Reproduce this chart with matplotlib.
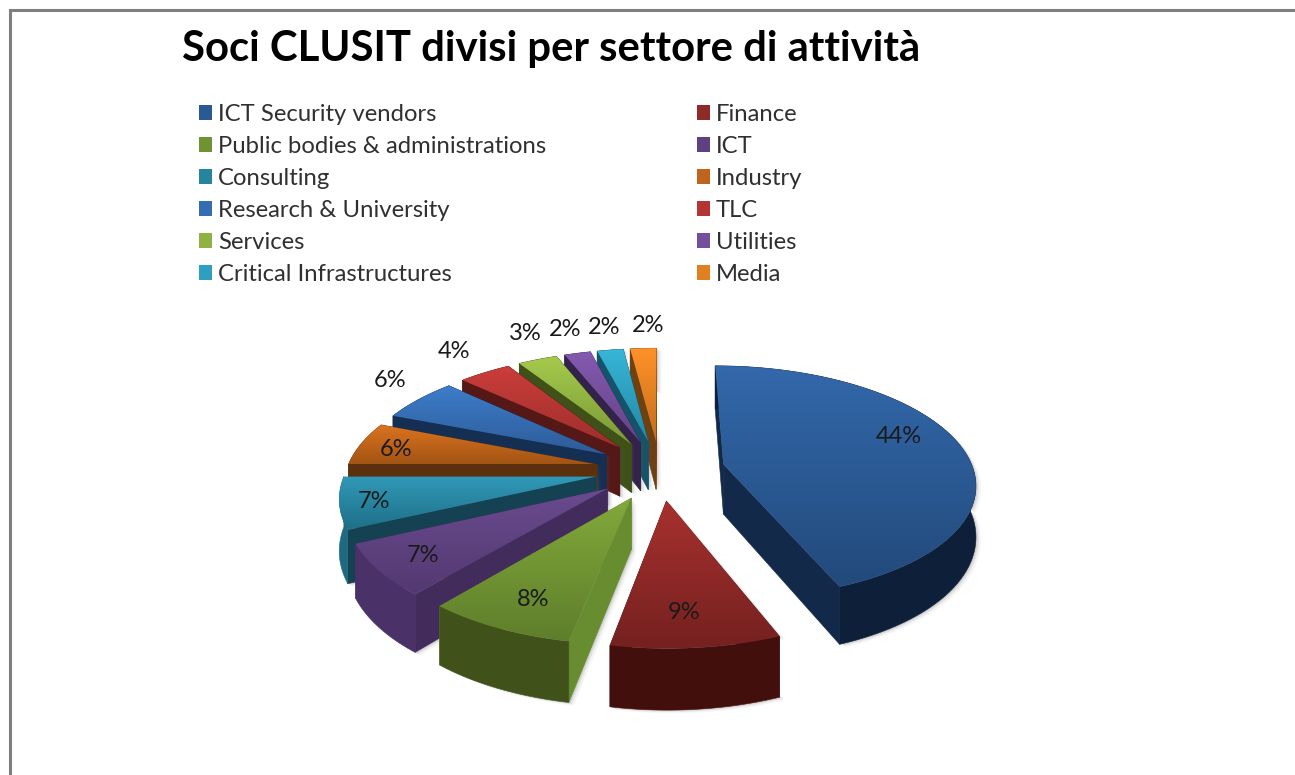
import numpy as np
import matplotlib
matplotlib.use("Agg")
import matplotlib.pyplot as plt
from matplotlib.colors import LinearSegmentedColormap
from matplotlib.patches import Polygon, Patch

TITLE = "Soci CLUSIT divisi per settore di attività"
categories = ["ICT Security vendors", "Finance", "Public bodies & administrations", "ICT",
              "Consulting", "Industry", "Research & University", "TLC",
              "Services", "Utilities", "Critical Infrastructures", "Media"]
values = [44, 9, 8, 7, 7, 6, 6, 4, 3, 2, 2, 2]

top_a = ["#3368ab", "#a8312e", "#82a93b", "#6a4b8f", "#3099b8", "#dc7420",
         "#3d7dca", "#cb3d3b", "#a5cb4c", "#8459af", "#36b6d8", "#ff9229"]
top_b = ["#224a7b", "#742120", "#5f7e2b", "#533971", "#1f6f87", "#a25414",
         "#2d5c98", "#9c2f2c", "#7a9a36", "#634487", "#2587a3", "#c56e1b"]
radial_c = ["#13294a", "#4f1513", "#688c30", "#412c5c", "#144253", "#5c300c",
            "#152f52", "#551816", "#3f5118", "#33224a", "#14536a", "#6f4010"]
outer_c = ["#0e2039", "#430f0d", "#40521a", "#4a3168", "#1f6a80", "#5c300c",
           "#152f52", "#551816", "#3f5118", "#33224a", "#14536a", "#6f4010"]
legend_c = ["#2a5a94", "#8e2a27", "#6f9232", "#5e4280", "#26849f", "#bf641a",
            "#356db2", "#b43634", "#8fb243", "#74509c", "#2e9fbe", "#e2801f"]
label_r = [0.74, 0.79, 0.79, 0.82, 0.87, 0.84, 1.19, 1.24, 1.29, 1.24, 1.24, 1.24]
label_dx = [0, -5, 3, 0, 0, -2, 4, -2, 11, 1, 2, 7]
label_dy = [-13, 0, 2, 1, 2, 2, -9, -5, -5, -5, -4, -4]

# view of the pie: a flat disc seen in perspective
CX, CY, RX, RY, PERSP, EXPLODE, DEPTH = 660, 470, 250, 115, 0.15, 0.26, 50


def project(x, y, lift=0.0):
    s = 1 / (1 - PERSP * y)
    return CX + RX * x * s, CY + RY * y * s + lift * s


def ground(theta, r, mid):
    return (r * np.sin(theta) + EXPLODE * np.sin(mid),
            -r * np.cos(theta) - EXPLODE * np.cos(mid))


fig = plt.figure(figsize=(12.95, 7.75), dpi=100, facecolor="white")
ax = fig.add_axes([0, 0, 1, 1])
ax.set_xlim(0, 1295)
ax.set_ylim(775, 0)
ax.axis("off")

fracs = np.array(values, dtype=float) / sum(values)
edges = np.concatenate([[0], np.cumsum(fracs)]) * 2 * np.pi
mids = (edges[:-1] + edges[1:]) / 2
order = sorted(range(len(values)), key=lambda i: -np.cos(mids[i]))

z = 2
for i in order:
    t0, t1, mid = edges[i], edges[i + 1], mids[i]
    thetas = np.linspace(t0, t1, 80)
    gx, gy = ground(thetas, 1.0, mid)
    ax_, ay_ = ground(0.0, 0.0, mid)
    tx, ty = project(gx, gy)
    bx, by = project(gx, gy, DEPTH)
    px, py = project(ax_, ay_)
    qx, qy = project(ax_, ay_, DEPTH)
    top = np.column_stack([np.r_[px, tx], np.r_[py, ty]])
    # soft cast shadow
    outline = np.column_stack([np.r_[qx, bx, tx[::-1], px], np.r_[qy, by, ty[::-1], py]])
    for off, al in [(5, 0.06), (3, 0.10), (1.5, 0.14)]:
        ax.add_patch(Polygon(outline + [off, off * 0.6], closed=True, fc="#555555", ec="none",
                             alpha=al, zorder=z))
    z += 1
    # walls
    for j in (0, -1):
        ax.add_patch(Polygon([(px, py), (tx[j], ty[j]), (bx[j], by[j]), (qx, qy)], closed=True,
                             fc=radial_c[i], ec=radial_c[i], lw=0.4, zorder=z))
    z += 1
    ax.add_patch(Polygon(np.column_stack([np.r_[tx, bx[::-1]], np.r_[ty, by[::-1]]]), closed=True,
                         fc=outer_c[i], ec=outer_c[i], lw=0.4, zorder=z))
    z += 1
    # top face with vertical gradient
    cmap = LinearSegmentedColormap.from_list("g", [top_a[i], top_b[i]])
    clip = Polygon(top, closed=True, fc="none", ec="none", transform=ax.transData)
    ax.add_patch(clip)
    im = ax.imshow(np.linspace(0, 1, 128).reshape(-1, 1), cmap=cmap, aspect="auto",
                   extent=[top[:, 0].min(), top[:, 0].max(), top[:, 1].max(), top[:, 1].min()],
                   interpolation="bilinear", zorder=z)
    im.set_clip_path(clip)
    z += 1

ax.set_xlim(0, 1295)
ax.set_ylim(775, 0)

for i, (v, mid) in enumerate(zip(values, mids)):
    r = label_r[i] + EXPLODE
    lx, ly = project(r * np.sin(mid), -r * np.cos(mid))
    ax.text(lx + label_dx[i], ly + label_dy[i], f"{v}%", ha="center", va="center",
            family="Lato", fontsize=17, color="#1a1a1a", zorder=500)

# frame of the screenshot
ax.plot([10, 10, 1295], [775, 10, 10], color="#7f7f7f", lw=2.2, solid_joinstyle="miter", zorder=600)

ax.text(182, 61, TITLE, family="Lato", weight="bold", fontsize=30.15, color="black",
        ha="left", va="baseline", zorder=600)

handles = [Patch(fc=c, ec="none") for c in legend_c]
idx = list(range(0, 12, 2)) + list(range(1, 12, 2))
leg = ax.legend([handles[i] for i in idx], [categories[i] for i in idx], ncols=2,
                loc="upper left", bbox_to_anchor=(199, 104), bbox_transform=ax.transData,
                frameon=False, borderpad=0, borderaxespad=0,
                handlelength=0.55, handleheight=0.55, handletextpad=0.25,
                labelspacing=0.46, columnspacing=6.3, labelcolor="#303030",
                prop={"family": "Lato", "size": 17.2})
leg.set_zorder(600)
fig.savefig("out.png", dpi=100, facecolor="white")
